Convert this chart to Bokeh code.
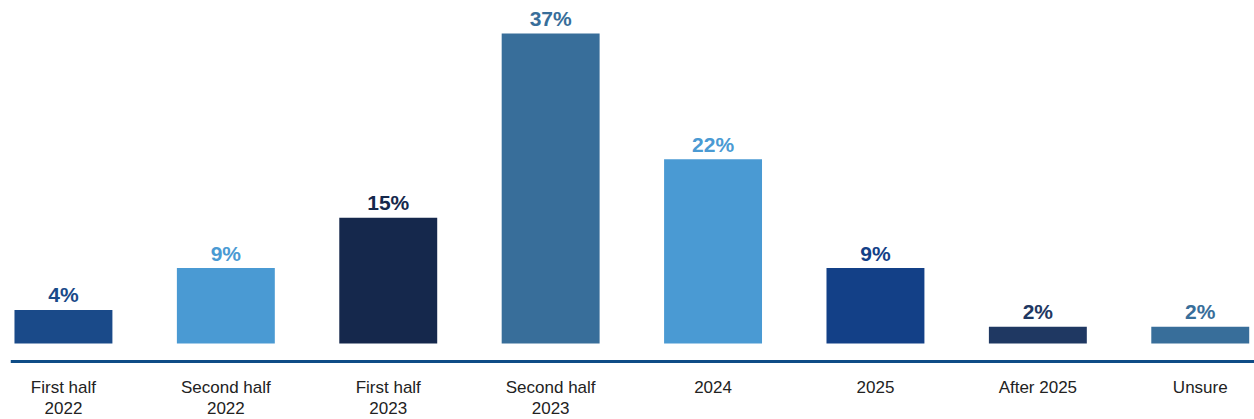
from bokeh.plotting import figure
from bokeh.models import ColumnDataSource, Range1d, Span
from bokeh.core.properties import value
from bokeh.embed import file_html
from bokeh.resources import INLINE

categories = ["First half\n2022", "Second half\n2022", "First half\n2023", "Second half\n2023",
              "2024", "2025", "After 2025", "Unsure"]
values = [4, 9, 15, 37, 22, 9, 2, 2]
colors = ["#1a4a89", "#4a9ad3", "#15284c", "#386e9a", "#4a9ad3", "#134087", "#1f3862", "#386e9a"]
value_labels = [f"{v}%" for v in values]

xs = list(range(len(categories)))
zeros = [0] * len(categories)
line1 = [c.split("\n")[0] for c in categories]
line2 = [c.split("\n")[1] if "\n" in c else "" for c in categories]
src = ColumnDataSource(dict(x=xs, top=values, base=zeros, color=colors,
                            label=value_labels, l1=line1, l2=line2))

W, H = 1254, 419
p = figure(width=W, height=H, output_backend="svg", toolbar_location=None,
           x_range=Range1d(-0.326, 7.334), y_range=Range1d(-9.07, 40.93),
           min_border_left=10, min_border_right=0, min_border_top=0, min_border_bottom=0)
p.outline_line_color = None
p.background_fill_color = "white"
p.border_fill_color = "white"
p.grid.grid_line_color = None
p.xaxis.visible = False
p.yaxis.visible = False

p.vbar(x="x", top="top", bottom="base", width=0.603, fill_color="color", line_color=None, source=src)
p.text(x="x", y="top", text="label", text_color="color", source=src,
       text_align="center", text_baseline="alphabetic", y_offset=-15,
       text_font=value("Liberation Sans"), text_font_style="bold", text_font_size="21px")

# baseline axis line
p.add_layout(Span(location=-2.15, dimension="width", line_color="#0f4c86", line_width=3))

# category labels below the axis line (two lines)
for col, off in (("l1", 44), ("l2", 65)):
    p.text(x="x", y="base", text=col, source=src, text_color="#222222",
           text_align="center", text_baseline="alphabetic", y_offset=off,
           text_font=value("Liberation Sans"), text_font_size="17px")

open("out.html", "w").write(file_html(p, INLINE))
